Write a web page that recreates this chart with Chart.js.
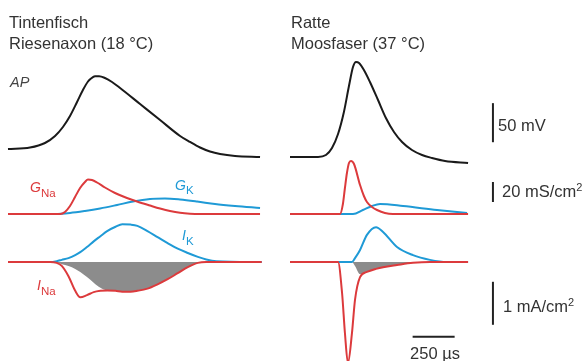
<!DOCTYPE html>
<html>
<head>
<meta charset="utf-8">
<script src="https://cdn.jsdelivr.net/npm/chart.js@4.4.1/dist/chart.umd.min.js"></script>
<style>
  html, body { margin: 0; padding: 0; background: #fff; }
  #wrap { position: relative; width: 584px; height: 361px; overflow: hidden; }
  #chart { position: absolute; left: 0; top: 0; }
  .lbl { position: absolute; white-space: nowrap; font-family: "Liberation Sans", Arial, sans-serif; color: #333; }
  .lbl span { position: relative; }
</style>
</head>
<body>
<div id="wrap"><canvas id="chart" width="584" height="361"></canvas></div>
<script>
// Squid giant axon (18 °C) — time in µs, V in mV, G in mS/cm², I in mA/cm²
var squidApT = [0, 131, 220, 280, 327, 369, 411, 446, 476, 494, 518, 542, 577, 619, 667, 786, 905, 1024, 1083, 1143, 1202, 1262, 1351, 1500];
var squidApV = [-68.7, -66.8, -61.0, -52.0, -40.5, -26.4, -8.5, 6.8, 17.7, 21.5, 24.4, 24.5, 22.2, 17.1, 9.4, -11.1, -31.6, -52.0, -59.7, -66.8, -71.9, -75.1, -77.6, -78.9];

var squidGNaT = [0, 310, 339, 369, 399, 429, 458, 476, 500, 530, 577, 637, 708, 768, 845, 905, 964, 1024, 1083, 1143, 1500];
var squidGNa  = [0, 0, 2, 8, 17, 26, 32, 34.5, 34, 31.5, 26.5, 21, 16, 12.5, 8.5, 5.5, 3, 1.2, 0.3, 0, 0];
var squidGKT  = [0, 280, 369, 458, 548, 649, 744, 845, 934, 1024, 1125, 1232, 1351, 1500];
var squidGK   = [0, 0, 1, 3, 5.5, 9, 12.5, 15, 15.5, 14.5, 12.5, 10, 8, 6];

var squidIT   = [0, 250, 290, 320, 360, 400, 430, 470, 510, 550, 590, 640, 680, 730, 770, 830, 890, 950, 1010, 1070, 1130, 1180, 1240, 1510];
var squidIK   = [0, 0, 0.02, 0.05, 0.09, 0.16, 0.23, 0.35, 0.48, 0.60, 0.72, 0.82, 0.88, 0.87, 0.84, 0.72, 0.58, 0.44, 0.31, 0.21, 0.12, 0.06, 0.02, 0];
var squidINa  = [0, 0, -0.02, -0.09, -0.33, -0.67, -0.82, -0.77, -0.70, -0.67, -0.66, -0.67, -0.69, -0.69, -0.67, -0.62, -0.52, -0.40, -0.26, -0.12, -0.02, 0, 0, 0];

// Rat mossy fibre (37 °C)
var ratApT = [0, 167, 214, 250, 286, 321, 351, 375, 393, 411, 440, 476, 524, 571, 619, 667, 726, 786, 845, 923, 1060];
var ratApV = [-78.9, -78.9, -76.4, -67.4, -49.5, -21.3, 11.9, 36.3, 42.7, 41.4, 32.4, 17.1, -6.0, -29.0, -46.9, -59.7, -70.0, -76.4, -80.2, -84.0, -86.6];

var ratGNaT = [0, 298, 315, 327, 339, 351, 363, 381, 417, 440, 458, 488, 518, 565, 613, 1060];
var ratGNa  = [0, 0, 10, 26, 41, 51, 53, 50, 29, 18, 12, 7, 4, 1, 0, 0];
var ratGKT  = [0, 375, 434, 488, 536, 673, 875, 1054];
var ratGK   = [0, 0, 4, 8, 10, 8, 4, 1];

var ratIT   = [0, 286, 310, 327, 345, 369, 387, 417, 458, 512, 554, 637, 732, 833, 934, 1060];
var ratIK   = [0, 0, 0, 0, 0, 0, 0.09, 0.28, 0.63, 0.81, 0.70, 0.35, 0.16, 0.05, 0, 0];
var ratINa  = [0, 0, -0.72, -1.65, -2.35, -1.65, -0.88, -0.35, -0.23, -0.16, -0.12, -0.07, -0.02, 0, 0, 0];

// scale bars (lengths in data units)
var barMV = [-60, -10];
var barMS = [12, 32];
var barMA = [-1.46, -0.46];
var barUS = [730, 980];

(function () {
  var RED = "#dc3a3c", BLUE = "#1f9ad6", BLACK = "#1a1a1a", GRAY = "#8c8c8c";
  var BAR_X = 1208;      // µs on the rat time axis
  var BAR_US_Y = -1.74;  // mA/cm² on the current axis

  function pts(t, v) {
    return t.map(function (x, i) { return { x: x, y: v[i] }; });
  }
  function trace(t, v, color, xId, yId, order) {
    return {
      data: pts(t, v), borderColor: color, borderWidth: 2, pointRadius: 0,
      cubicInterpolationMode: "monotone", fill: false,
      xAxisID: xId, yAxisID: yId, order: order,
    };
  }
  // overlap of Na+ and K+ current (shaded area)
  function overlap(t, ina, ik, xId) {
    var v = ina.map(function (n, i) { return Math.max(n, -ik[i]); });
    return {
      data: pts(t, v), borderWidth: 0, borderColor: GRAY, backgroundColor: GRAY,
      pointRadius: 0, cubicInterpolationMode: "monotone", fill: "origin",
      xAxisID: xId, yAxisID: "yI", order: 5,
    };
  }
  function bar(p1, p2, yId) {
    return {
      data: [p1, p2], borderColor: "#222", borderWidth: 2, pointRadius: 0,
      tension: 0, fill: false, xAxisID: "xR", yAxisID: yId, order: 0,
    };
  }

  new Chart(document.getElementById("chart"), {
    type: "line",
    data: {
      datasets: [
        trace(squidApT, squidApV, BLACK, "xL", "yV", 0),
        trace(squidGNaT, squidGNa, RED, "xL", "yG", 0),
        trace(squidGKT, squidGK, BLUE, "xL", "yG", 1),
        trace(squidIT, squidINa, RED, "xL", "yI", 0),
        trace(squidIT, squidIK, BLUE, "xL", "yI", 1),
        overlap(squidIT, squidINa, squidIK, "xL"),

        trace(ratApT, ratApV, BLACK, "xR", "yV", 0),
        trace(ratGNaT, ratGNa, RED, "xR", "yG", 0),
        trace(ratGKT, ratGK, BLUE, "xR", "yG", 1),
        trace(ratIT, ratINa, RED, "xR", "yI", 0),
        trace(ratIT, ratIK, BLUE, "xR", "yI", 1),
        overlap(ratIT, ratINa, ratIK, "xR"),

        bar({ x: BAR_X, y: barMV[0] }, { x: BAR_X, y: barMV[1] }, "yV"),
        bar({ x: BAR_X, y: barMS[0] }, { x: BAR_X, y: barMS[1] }, "yG"),
        bar({ x: BAR_X, y: barMA[0] }, { x: BAR_X, y: barMA[1] }, "yI"),
        bar({ x: barUS[0], y: BAR_US_Y }, { x: barUS[1], y: BAR_US_Y }, "yI"),
      ],
    },
    options: {
      responsive: false,
      animation: false,
      events: [],
      layout: { padding: 0 },
      plugins: { legend: { display: false }, tooltip: { enabled: false } },
      scales: {
        xL: { type: "linear", display: false, min: -47.6, max: 3428 },
        xR: { type: "linear", display: false, min: -1726, max: 1750 },
        yV: { type: "linear", display: false, min: -340, max: 122 },
        yG: { type: "linear", display: false, min: -147, max: 214 },
        yI: { type: "linear", display: false, min: -2.302, max: 6.093 },
      },
    },
  });

  // ── text labels ──
  var labels = [
    { html: "Tintenfisch", x: 9, base: 28, size: 16.5 },
    { html: "Riesenaxon (18 °C)", x: 9, base: 49, size: 16.5 },
    { html: "Ratte", x: 291, base: 28, size: 16.5 },
    { html: "Moosfaser (37 °C)", x: 291, base: 49, size: 16.5 },
    { html: "<i>AP</i>", x: 10, base: 87, size: 14.5, color: "#444" },
    { html: "<i>G</i><span style='font-size:11.5px;top:5px'>Na</span>", x: 30, base: 192, size: 14, color: RED },
    { html: "<i>G</i><span style='font-size:11.5px;top:4px'>K</span>", x: 175, base: 190, size: 14, color: BLUE },
    { html: "<i>I</i><span style='font-size:11.5px;top:5px'>K</span>", x: 182, base: 240, size: 14, color: BLUE },
    { html: "<i>I</i><span style='font-size:11.5px;top:5px'>Na</span>", x: 37, base: 290, size: 14, color: RED },
    { html: "50 mV", x: 498, base: 131, size: 16.5 },
    { html: "20 mS/cm<span style='font-size:11px;top:-6px'>2</span>", x: 502, base: 197, size: 16.5 },
    { html: "1 mA/cm<span style='font-size:11px;top:-6px'>2</span>", x: 503, base: 312, size: 16.5 },
    { html: "250 µs", x: 435, base: 359, size: 16.5, center: true },
  ];
  var wrap = document.getElementById("wrap");
  labels.forEach(function (l) {
    var d = document.createElement("div");
    d.className = "lbl";
    d.innerHTML = l.html;
    d.style.fontSize = l.size + "px";
    d.style.lineHeight = l.size + "px";
    d.style.top = (l.base - 0.8465 * l.size) + "px";
    d.style.left = l.x + "px";
    if (l.color) d.style.color = l.color;
    if (l.center) d.style.transform = "translateX(-50%)";
    wrap.appendChild(d);
  });
})();
</script>
</body>
</html>
